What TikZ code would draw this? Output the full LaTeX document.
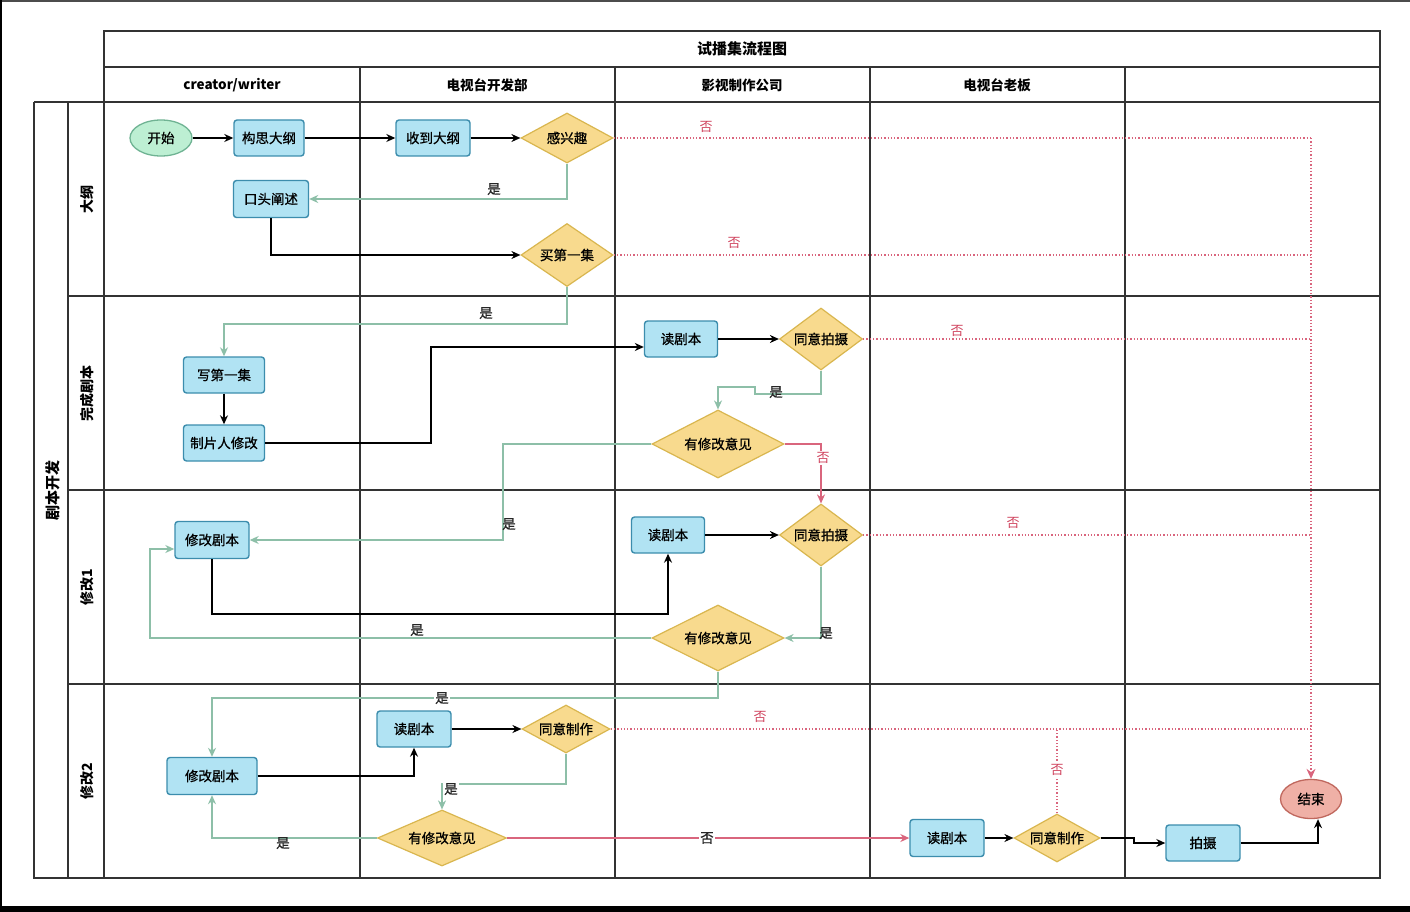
\documentclass[tikz,border=0pt]{standalone}
\usepackage{fontspec}
\setmainfont{Noto Sans CJK SC}
\newfontfamily\medcjk{Noto Sans CJK SC}[FakeBold=0.8]
\usetikzlibrary{shapes.geometric,arrows.meta}
\definecolor{boxfill}{HTML}{B1E3F3}
\definecolor{boxline}{HTML}{3C8DAD}
\definecolor{diafill}{HTML}{F8DA8E}
\definecolor{dialine}{HTML}{D9B64F}
\definecolor{startfill}{HTML}{BDEFD3}
\definecolor{startline}{HTML}{6FB393}
\definecolor{endfill}{HTML}{EFB0A6}
\definecolor{endline}{HTML}{C0685E}
\definecolor{gline}{HTML}{8DBFA8}
\definecolor{rline}{HTML}{D9657D}
\definecolor{rtext}{HTML}{D0435E}
\definecolor{gridc}{HTML}{333333}
\begin{document}
\begin{tikzpicture}[x=1pt,y=-1pt,
  every node/.style={font=\fontsize{13}{15}\selectfont},
  nt/.style={font=\medcjk\fontsize{13.5}{15}\selectfont},
  tbl/.style={draw=gridc,line width=1.6pt},
  proc/.style={nt,draw=boxline,fill=boxfill,line width=1.4pt,rounded corners=3pt,inner sep=0pt},
  dia/.style={nt,diamond,draw=dialine,fill=diafill,line width=1.2pt,inner sep=0pt,aspect=2},
  blk/.style={draw=black,line width=1.4pt,-{Stealth[length=9pt,width=8pt]}},
  grn/.style={draw=gline,line width=1.3pt,-{Stealth[length=9pt,width=8pt]}},
  rsol/.style={draw=rline,line width=1.3pt,-{Stealth[length=9pt,width=8pt]}},
  rdot/.style={draw=rline,line width=1.3pt,dotted},
  yes/.style={nt,text=black!85},
  no/.style={text=rtext},
  lane/.style={rotate=90,font=\fontsize{14}{16}\selectfont\bfseries},
  hdr/.style={font=\fontsize{13.5}{15}\selectfont\bfseries}
]
\useasboundingbox (0,0) rectangle (1410,912);
\fill[white] (0,0) rectangle (1410,912);
% screenshot frame
\fill[black!70] (0,0) rectangle (1410,2);
\fill[black] (0,0) rectangle (2,912);
\fill[black] (0,906) rectangle (1410,912);

% table
\draw[tbl] (104,31) rectangle (1380,878);
\draw[tbl] (104,67) -- (1380,67);
\draw[tbl] (34,102) -- (1380,102);
\draw[tbl] (34,102) -- (34,878) -- (104,878);
\draw[tbl] (68,102) -- (68,878);
\foreach \y in {296,490,684} \draw[tbl] (68,\y) -- (1380,\y);
\foreach \x in {360,615,870,1125} \draw[tbl] (\x,67) -- (\x,878);

\node[hdr,font=\fontsize{15}{17}\selectfont\bfseries] (title) at (742,49) {试播集流程图};
\node[hdr] (h1) at (232,85) {creator/writer};
\node[hdr] (h2) at (487,85) {电视台开发部};
\node[hdr] (h3) at (742,85) {影视制作公司};
\node[hdr] (h4) at (997,85) {电视台老板};
\node[lane,font=\fontsize{15}{17}\selectfont\bfseries] (pool) at (53,490) {剧本开发};
\node[lane] (l1) at (87,199) {大纲};
\node[lane] (l2) at (87,393) {完成剧本};
\node[lane] (l3) at (87,587) {修改1};
\node[lane] (l4) at (87,781) {修改2};

% lane 1
\node[nt,ellipse,draw=startline,fill=startfill,line width=1.3pt,minimum width=62pt,minimum height=36pt,inner sep=0pt] (start) at (161,138) {开始};
\node[proc,minimum width=70pt,minimum height=36pt] (gousi) at (269,138) {构思大纲};
\node[proc,minimum width=74pt,minimum height=36pt] (shoudao) at (433,138) {收到大纲};
\node[dia,minimum width=92pt,minimum height=50pt] (gxq) at (567,138) {感兴趣};
\node[proc,minimum width=75pt,minimum height=37pt] (kt) at (271,199) {口头阐述};
\node[dia,minimum width=92pt,minimum height=63pt] (mdy) at (567,255) {买第一集};

% lane 2
\node[proc,minimum width=81pt,minimum height=36pt] (xdyj) at (224,375) {写第一集};
\node[proc,minimum width=81pt,minimum height=36pt] (zpr) at (224,443) {制片人修改};
\node[proc,minimum width=73pt,minimum height=36pt] (djb1) at (681,339) {读剧本};
\node[dia,minimum width=83pt,minimum height=62pt] (typs1) at (821,339) {同意拍摄};
\node[dia,minimum width=132pt,minimum height=68pt] (ygyj1) at (718,444) {有修改意见};

% lane 3
\node[proc,minimum width=74pt,minimum height=37pt] (xgjb1) at (212,540) {修改剧本};
\node[proc,minimum width=73pt,minimum height=36pt] (djb2) at (668,535) {读剧本};
\node[dia,minimum width=83pt,minimum height=62pt] (typs2) at (821,535) {同意拍摄};
\node[dia,minimum width=132pt,minimum height=66pt] (ygyj2) at (718,638) {有修改意见};

% lane 4
\node[proc,minimum width=90pt,minimum height=37pt] (xgjb2) at (212,776) {修改剧本};
\node[proc,minimum width=74pt,minimum height=36pt] (djb3) at (414,729) {读剧本};
\node[dia,minimum width=88pt,minimum height=48pt] (tyzz1) at (566,729) {同意制作};
\node[dia,minimum width=129pt,minimum height=56pt] (ygyj3) at (442,838) {有修改意见};
\node[proc,minimum width=74pt,minimum height=37pt] (djb4) at (947,838) {读剧本};
\node[dia,minimum width=86pt,minimum height=48pt] (tyzz2) at (1057,838) {同意制作};
\node[proc,minimum width=74pt,minimum height=36pt] (ps) at (1203,843) {拍摄};
\node[nt,ellipse,draw=endline,fill=endfill,line width=1.3pt,minimum width=61pt,minimum height=39pt,inner sep=0pt] (end) at (1311,799) {结束};

% connectors lane 1
\draw[blk] (start) -- (gousi);
\draw[blk] (gousi) -- (shoudao);
\draw[blk] (shoudao) -- (gxq);
\draw[grn] (gxq.south) |- (kt.east);
\node[yes] (y1) at (494,189) {是};
\draw[rdot] (gxq.east) -- (gxq.east -| end.north);
\node[no] (n1) at (706,127) {否};
\draw[blk] (kt.south) |- (mdy.west);
\draw[rdot] (mdy.east) -- (mdy.east -| end.north);
\node[no] (n2) at (734,243) {否};
\draw[grn] (mdy.south) -- (mdy.south |- 0,324) -| (xdyj.north);
\node[yes] (y2) at (486,313) {是};
\draw[rdot,-{Stealth[length=10pt,width=9pt]}] (gxq.east -| end.north) -- (end.north);

% lane 2
\draw[blk] (xdyj) -- (zpr);
\draw[blk] (zpr.east) -- (431,443) |- ([yshift=-8pt]djb1.west);
\draw[blk] (djb1) -- (typs1);
\draw[rdot] (typs1.east) -- (typs1.east -| end.north);
\node[no] (n3) at (957,331) {否};
\draw[grn] (typs1.south) -- (821,394) -- (755,394) -- (755,387) -- (718,387) -- (ygyj1.north);
\node[yes] (y3) at (776,392) {是};
\draw[rsol] (ygyj1.east) -| (typs2.north);
\node[no,fill=white,inner sep=1pt] (n4) at (823,458) {否};
\draw[grn] (ygyj1.west) -- (503,444) |- (xgjb1.east);
\node[yes] (y4) at (509,524) {是};

% lane 3
\draw[blk] (djb2) -- (typs2);
\draw[rdot] (typs2.east) -- (typs2.east -| end.north);
\node[no] (n5) at (1013,523) {否};
\draw[grn] (typs2.south) |- (ygyj2.east);
\node[yes] (y5) at (826,633) {是};
\draw[blk] (xgjb1.south) -- (xgjb1.south |- 0,614) -| (djb2.south);
\draw[grn] (ygyj2.west) -- (150,638) |- ([yshift=-9pt]xgjb1.west);
\node[yes] (y6) at (417,630) {是};
\draw[grn] (ygyj2.south) -- (ygyj2.south |- 0,698) -| (xgjb2.north);
\node[yes,fill=white,inner sep=1pt] (y7) at (442,698) {是};

% lane 4
\draw[blk] (xgjb2.east) -| (djb3.south);
\draw[blk] (djb3) -- (tyzz1);
\draw[rdot] (tyzz1.east) -- (tyzz1.east -| end.north);
\node[no] (n6) at (760,717) {否};
\draw[grn] (tyzz1.south) -- (tyzz1.south |- 0,784) -| (ygyj3.north);
\node[yes,fill=white,inner sep=1pt] (y8) at (451,789) {是};
\draw[grn] (ygyj3.west) -| (xgjb2.south);
\node[yes] (y9) at (283,843) {是};
\draw[rsol] (ygyj3.east) -- (djb4.west);
\node[yes,fill=white,inner sep=1pt] (n7) at (707,838) {否};
\draw[blk] (djb4) -- (tyzz2);
\draw[rdot] (tyzz2.north) -- (tyzz2.north |- tyzz1.east);
\node[no,fill=white,inner sep=1pt] (n8) at (1057,770) {否};
\draw[blk] (tyzz2.east) -- (1134,838) |- (ps.west);
\draw[blk] (ps.east) -| ([xshift=7pt]end.south);
\end{tikzpicture}
\end{document}
